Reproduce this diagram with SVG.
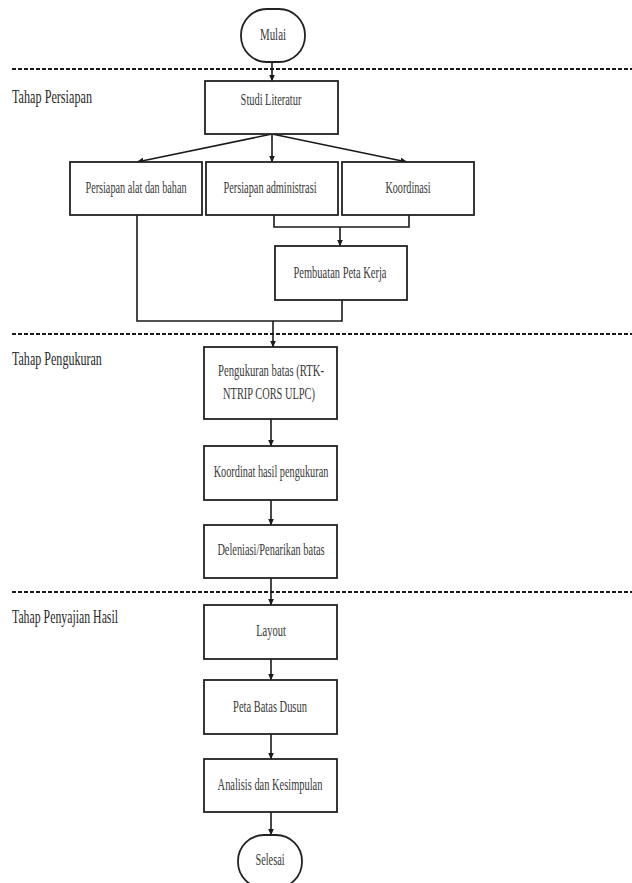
<svg xmlns="http://www.w3.org/2000/svg" width="632" height="883" viewBox="0 0 632 883">
<style>
.box{fill:#fff;stroke:#222;stroke-width:1.8}
.t{font-family:"Liberation Serif","Times New Roman",serif;font-size:17px;fill:#3a3a3a;text-anchor:middle;dominant-baseline:central}
.s{font-family:"Liberation Serif","Times New Roman",serif;font-size:18px;fill:#2a2a2a;dominant-baseline:central}
.c{fill:none;stroke:#1a1a1a;stroke-width:1.6}
.a{fill:none;stroke:#1a1a1a;stroke-width:1.6;marker-end:url(#ah)}
.d{stroke:#1a1a1a;stroke-width:2;stroke-dasharray:4 2}
</style>
<defs>
<marker id="ah" markerUnits="userSpaceOnUse" markerWidth="7" markerHeight="7" refX="6.5" refY="3.5" orient="auto">
<path d="M0,0.5 L7,3.5 L0,6.5 z" fill="#1a1a1a"/>
</marker>
</defs>
<g id="stages">
<line class="d" x1="12" y1="69" x2="632" y2="69"/>
<line class="d" x1="12" y1="334" x2="632" y2="334"/>
<line class="d" x1="12" y1="592" x2="632" y2="592"/>
<text class="s" transform="translate(12,97) scale(0.62,1)" textLength="129" lengthAdjust="spacingAndGlyphs">Tahap Persiapan</text>
<text class="s" transform="translate(12,359) scale(0.62,1)" textLength="145" lengthAdjust="spacingAndGlyphs">Tahap Pengukuran</text>
<text class="s" transform="translate(12,617) scale(0.62,1)" textLength="171" lengthAdjust="spacingAndGlyphs">Tahap Penyajian Hasil</text>
</g>
<g id="connectors">
<path class="a" d="M272,62 V81"/>
<path class="a" d="M272,134 L137,162"/>
<path class="a" d="M272,134 V162"/>
<path class="a" d="M272,134 L407,162"/>
<path class="c" d="M274,215 V227 H409 V215"/>
<path class="a" d="M340,227 V246"/>
<path class="c" d="M137,215 V321 H342 V300"/>
<path class="a" d="M273,321 V347"/>
<path class="a" d="M271,419 V446"/>
<path class="a" d="M271,500 V525"/>
<path class="a" d="M271,578 V605"/>
<path class="a" d="M271,659 V680"/>
<path class="a" d="M271,734 V759"/>
<path class="a" d="M271,812 V835"/>
</g>
<g id="mulai">
<rect class="box" x="241" y="9" width="64" height="53" rx="26" ry="26"/>
<text class="t" transform="translate(273,34) scale(0.62,1)" textLength="42" lengthAdjust="spacingAndGlyphs">Mulai</text>
</g>
<g id="studi">
<rect class="box" x="205" y="81" width="133" height="53"/>
<text class="t" transform="translate(271,99) scale(0.62,1)" textLength="98" lengthAdjust="spacingAndGlyphs">Studi Literatur</text>
</g>
<g id="alat">
<rect class="box" x="70" y="162" width="132" height="53"/>
<text class="t" transform="translate(136,187) scale(0.62,1)" textLength="163" lengthAdjust="spacingAndGlyphs">Persiapan alat dan bahan</text>
</g>
<g id="admin">
<rect class="box" x="206" y="162" width="132" height="53"/>
<text class="t" transform="translate(270,187) scale(0.62,1)" textLength="150" lengthAdjust="spacingAndGlyphs">Persiapan administrasi</text>
</g>
<g id="koordinasi">
<rect class="box" x="342" y="162" width="132" height="53"/>
<text class="t" transform="translate(408,187) scale(0.62,1)" textLength="73" lengthAdjust="spacingAndGlyphs">Koordinasi</text>
</g>
<g id="peta-kerja">
<rect class="box" x="275" y="246" width="132" height="54"/>
<text class="t" transform="translate(340,272) scale(0.62,1)" textLength="150" lengthAdjust="spacingAndGlyphs">Pembuatan Peta Kerja</text>
</g>
<g id="pengukuran">
<rect class="box" x="204" y="347" width="133" height="72"/>
<text class="t" transform="translate(271,370) scale(0.62,1)" textLength="171" lengthAdjust="spacingAndGlyphs">Pengukuran batas (RTK-</text>
<text class="t" transform="translate(269,393) scale(0.62,1)" textLength="148" lengthAdjust="spacingAndGlyphs">NTRIP CORS ULPC)</text>
</g>
<g id="koordinat">
<rect class="box" x="204" y="446" width="133" height="54"/>
<text class="t" transform="translate(271,471) scale(0.62,1)" textLength="185" lengthAdjust="spacingAndGlyphs">Koordinat hasil pengukuran</text>
</g>
<g id="deleniasi">
<rect class="box" x="204" y="525" width="133" height="53"/>
<text class="t" transform="translate(271,549) scale(0.62,1)" textLength="173" lengthAdjust="spacingAndGlyphs">Deleniasi/Penarikan batas</text>
</g>
<g id="layout">
<rect class="box" x="204" y="605" width="133" height="54"/>
<text class="t" transform="translate(271,630) scale(0.62,1)" textLength="48" lengthAdjust="spacingAndGlyphs">Layout</text>
</g>
<g id="peta-batas">
<rect class="box" x="204" y="680" width="133" height="54"/>
<text class="t" transform="translate(270,706) scale(0.62,1)" textLength="119" lengthAdjust="spacingAndGlyphs">Peta Batas Dusun</text>
</g>
<g id="analisis">
<rect class="box" x="204" y="759" width="133" height="53"/>
<text class="t" transform="translate(270,784) scale(0.62,1)" textLength="169" lengthAdjust="spacingAndGlyphs">Analisis dan Kesimpulan</text>
</g>
<g id="selesai">
<rect class="box" x="238" y="835" width="64" height="53" rx="26" ry="26"/>
<text class="t" transform="translate(270,859) scale(0.62,1)" textLength="47" lengthAdjust="spacingAndGlyphs">Selesai</text>
</g>
</svg>
